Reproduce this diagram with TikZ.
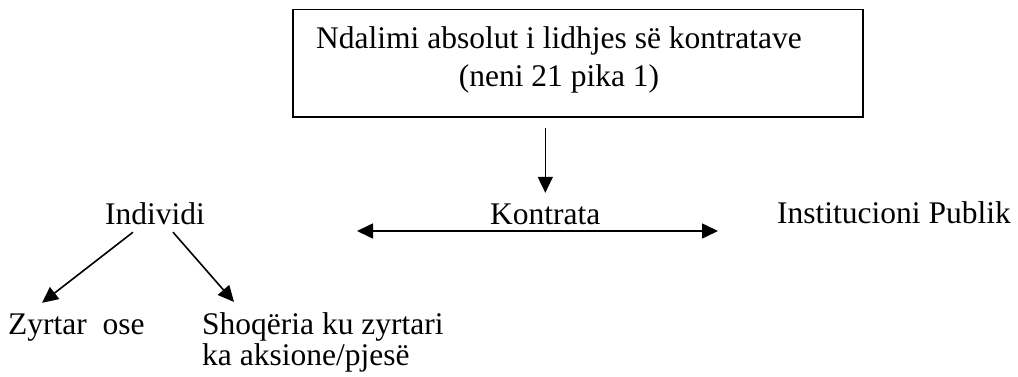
\documentclass[tikz,border=0pt]{standalone}
\usepackage{fontspec}
\setmainfont{Liberation Serif}
\usetikzlibrary{arrows.meta}
\begin{document}
\begin{tikzpicture}[x=1pt,y=-1pt,
  txt/.style={inner sep=0pt,anchor=base west,font=\fontsize{31.5}{31}\selectfont},
  arr/.style={line width=1.6pt,-{Triangle[length=16pt,width=15pt]}},
  darr/.style={line width=1.6pt,{Triangle[length=16pt,width=15pt]}-{Triangle[length=16pt,width=15pt]}},
  boxst/.style={draw,line width=1.8pt,minimum width=570pt,minimum height=107.5pt,inner sep=0pt}]
\useasboundingbox (0,0) rectangle (1018,377);
\node[boxst] (box) at (578,63.3) {};
\node[inner sep=0pt,anchor=base,align=center,font=\fontsize{31.5}{38}\selectfont] (title) at (559,87)
  {Ndalimi absolut i lidhjes së kontratave\\(neni 21 pika 1)};
\node[txt,text height=22pt,text depth=7pt] (ind) at (105,225) {Individi};
\node[txt,text height=22pt,text depth=7pt] (kon) at (490,225) {Kontrata};
\node[txt,text height=22pt,text depth=7pt] (ins) at (777,223) {Institucioni Publik};
\node[txt,text height=22pt,text depth=7pt] (zy) at (8,334) {Zyrtar\ \ ose};
\node[txt,align=left] (sh) at (202,365) {Shoqëria ku zyrtari\\ka aksione/pjesë};
\coordinate (dl) at (357,231);
\coordinate (dr) at (718,231);
\draw[arr,shorten <=10pt,shorten >=10pt] (kon.north |- box.south) -- (kon.north);
\draw[darr] (dl) -- (dr);
\draw[arr] ([xshift=28pt]ind.south west) -- ([xshift=34pt,yshift=9pt]zy.north west);
\draw[arr] ([xshift=68pt]ind.south west) -- ([xshift=32pt,yshift=10pt]sh.north west);
\end{tikzpicture}
\end{document}
